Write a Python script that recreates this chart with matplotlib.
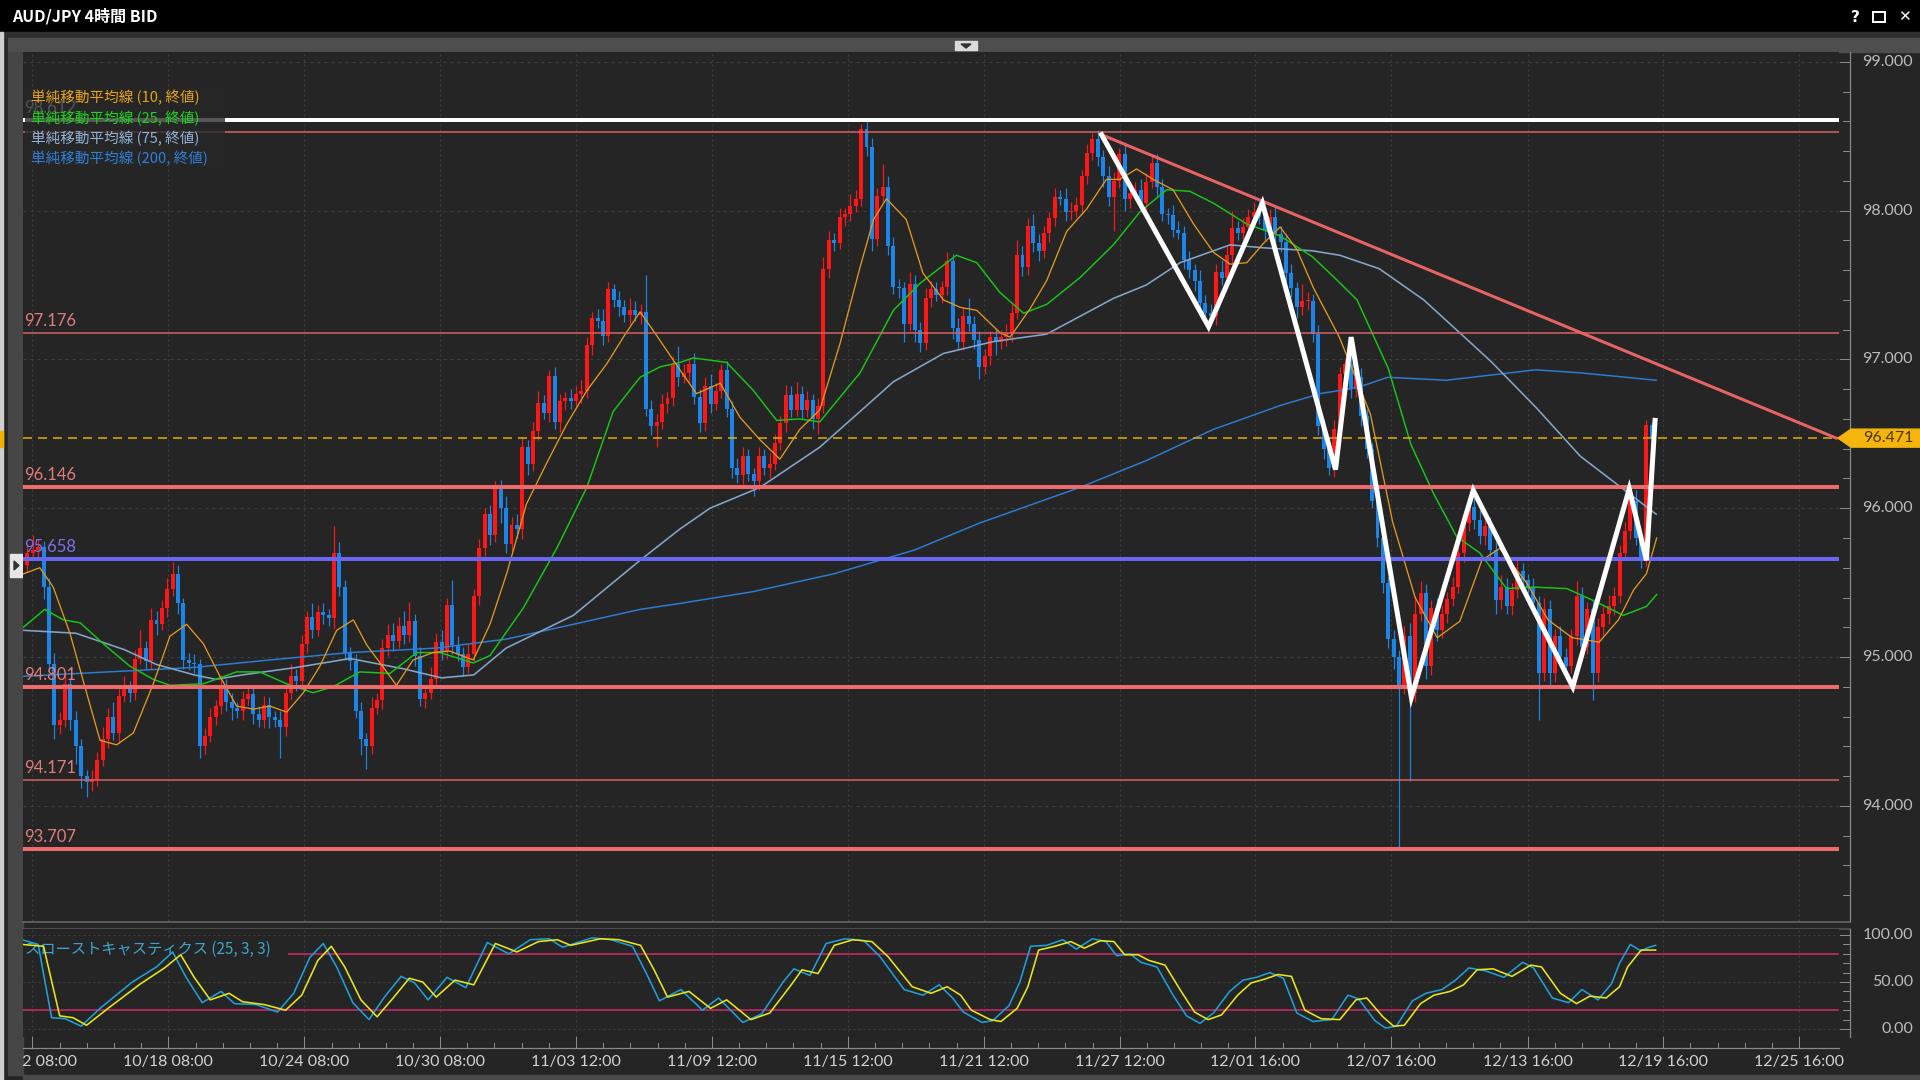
"""AUD/JPY 4h chart in a dark trading-terminal style: candles, SMAs, levels, zigzag, slow stochastics."""
import numpy as np
import matplotlib
matplotlib.use("Agg")
import matplotlib.pyplot as plt
from matplotlib import font_manager
from matplotlib.patches import Rectangle, Polygon
from matplotlib.transforms import Bbox, blended_transform_factory, offset_copy

# ---------------- data ----------------
first_open = 95.62
closes = [
    95.70, 95.72, 95.74, 95.47, 94.95, 94.54, 94.58, 94.82, 94.58, 94.40,
    94.20, 94.16, 94.18, 94.31, 94.45, 94.60, 94.49, 94.74, 94.80, 94.76,
    94.99, 95.06, 94.97, 95.25, 95.22, 95.33, 95.46, 95.56, 95.36, 94.98,
    94.96, 94.95, 94.40, 94.47, 94.60, 94.67, 94.80, 94.70, 94.66, 94.64,
    94.72, 94.75, 94.62, 94.58, 94.68, 94.60, 94.58, 94.53, 94.76, 94.87,
    94.84, 95.09, 95.27, 95.18, 95.30, 95.28, 95.26, 95.70, 95.47, 95.03,
    94.97, 94.64, 94.45, 94.40, 94.66, 94.71, 95.06, 95.15, 95.11, 95.21,
    95.15, 95.24, 95.01, 94.72, 94.76, 94.85, 95.10, 95.04, 95.35, 95.08,
    95.02, 94.93, 95.02, 95.41, 95.73, 95.96, 95.82, 96.13, 96.00, 95.76,
    95.89, 95.86, 96.41, 96.30, 96.52, 96.71, 96.64, 96.89, 96.58, 96.72,
    96.74, 96.72, 96.77, 96.79, 97.10, 97.28, 97.26, 97.16, 97.47, 97.40,
    97.35, 97.30, 97.33, 97.30, 97.32, 96.67, 96.55, 96.58, 96.70, 96.74,
    96.97, 96.88, 96.91, 96.97, 96.75, 96.57, 96.82, 96.70, 96.79, 96.93,
    96.67, 96.27, 96.22, 96.35, 96.23, 96.18, 96.35, 96.27, 96.30, 96.44,
    96.57, 96.76, 96.66, 96.77, 96.66, 96.73, 96.60, 96.69, 97.61, 97.80,
    97.78, 97.96, 97.98, 98.03, 98.08, 98.55, 98.43, 97.81, 98.10, 98.16,
    97.76, 97.49, 97.48, 97.24, 97.51, 97.20, 97.11, 97.41, 97.47, 97.43,
    97.49, 97.66, 97.21, 97.12, 97.29, 97.24, 97.13, 96.95, 97.02, 97.15,
    97.12, 97.15, 97.17, 97.31, 97.70, 97.62, 97.90, 97.78, 97.73, 97.85,
    97.95, 98.09, 98.08, 97.99, 98.00, 98.04, 98.23, 98.39, 98.48, 98.36,
    98.23, 98.09, 98.20, 98.38, 98.08, 98.12, 98.14, 98.05, 98.19, 98.32,
    98.16, 97.98, 97.97, 97.87, 97.85, 97.67, 97.60, 97.53, 97.38, 97.31,
    97.29, 97.59, 97.55, 97.70, 97.88, 97.85, 97.89, 97.96, 97.99, 97.96,
    97.86, 97.96, 97.84, 97.79, 97.58, 97.48, 97.35, 97.39, 97.39, 97.17,
    96.55, 96.40, 96.27, 96.53, 96.90, 96.97, 96.80, 96.88, 96.62, 96.40,
    96.05, 95.80, 95.50, 95.12, 95.00, 94.80, 95.14, 94.76, 95.29, 95.43,
    94.94, 95.33, 95.18, 95.29, 95.39, 95.47, 95.70, 95.90, 96.01, 95.92,
    95.81, 95.88, 95.72, 95.38, 95.47, 95.34, 95.45, 95.58, 95.52, 95.47,
    95.36, 94.89, 95.32, 94.89, 95.14, 95.00, 94.94, 95.14, 95.41, 95.07,
    95.32, 94.89, 95.20, 95.29, 95.34, 95.41, 95.70, 95.85, 96.05, 95.80,
    95.66, 96.56, 96.471,
]
# wick lengths beyond the body, in pips (0.01 JPY)
upper_wick = [
    6, 10, 5, 4, 6, 8, 5, 7, 4, 6,
    5, 4, 6, 5, 8, 6, 10, 5, 7, 4,
    6, 12, 5, 8, 6, 5, 7, 8, 6, 4,
    5, 6, 4, 5, 6, 4, 8, 5, 6, 4,
    5, 6, 4, 5, 6, 5, 4, 6, 5, 8,
    5, 6, 4, 9, 5, 6, 4, 18, 7, 5,
    4, 5, 6, 4, 7, 5, 6, 7, 8, 6,
    10, 13, 5, 6, 4, 8, 6, 8, 5, 17,
    6, 5, 7, 5, 6, 4, 6, 5, 6, 8,
    5, 7, 6, 5, 6, 8, 5, 4, 6, 5,
    4, 6, 5, 7, 5, 4, 6, 8, 5, 4,
    6, 5, 8, 6, 5, 25, 6, 5, 7, 4,
    5, 12, 6, 4, 7, 5, 6, 8, 5, 4,
    6, 5, 7, 6, 5, 4, 6, 5, 7, 6,
    5, 7, 6, 8, 5, 6, 4, 5, 8, 6,
    5, 6, 4, 8, 6, 3, 5, 6, 5, 15,
    7, 6, 5, 4, 8, 6, 5, 7, 6, 5,
    4, 6, 5, 7, 6, 12, 5, 6, 5, 4,
    6, 5, 7, 6, 10, 6, 5, 8, 6, 5,
    4, 6, 5, 7, 6, 5, 4, 6, 4, 6,
    5, 7, 6, 4, 8, 6, 5, 7, 6, 5,
    6, 5, 4, 7, 6, 5, 6, 4, 7, 5,
    6, 5, 8, 6, 12, 5, 6, 5, 7, 9,
    6, 5, 7, 6, 5, 6, 4, 12, 6, 5,
    6, 5, 4, 6, 5, 4, 7, 5, 6, 5,
    4, 6, 5, 4, 6, 5, 7, 9, 12, 8,
    6, 5, 7, 6, 5, 7, 6, 8, 5, 6,
    7, 5, 6, 5, 8, 6, 5, 7, 5, 4,
    6, 5, 8, 6, 5, 7, 6, 5, 10, 6,
    5, 7, 6, 5, 8, 6, 5, 6, 5, 7,
    4, 3, 2,
]
lower_wick = [
    5, 4, 6, 8, 5, 9, 6, 5, 7, 12,
    8, 10, 6, 5, 4, 6, 5, 7, 4, 6,
    5, 4, 6, 5, 7, 4, 6, 5, 7, 6,
    5, 6, 8, 5, 4, 6, 5, 6, 8, 5,
    6, 4, 7, 5, 6, 8, 5, 21, 6, 5,
    7, 5, 6, 5, 4, 6, 5, 7, 6, 5,
    6, 5, 11, 15, 5, 4, 6, 5, 7, 5,
    6, 5, 7, 5, 6, 4, 5, 6, 5, 6,
    5, 6, 4, 5, 6, 5, 7, 5, 10, 6,
    5, 6, 7, 8, 5, 6, 4, 6, 5, 7,
    6, 5, 4, 6, 5, 7, 5, 6, 4, 5,
    6, 5, 6, 4, 6, 5, 6, 14, 5, 6,
    5, 6, 4, 7, 5, 6, 5, 6, 4, 5,
    6, 7, 5, 6, 5, 10, 6, 5, 7, 4,
    5, 6, 5, 4, 6, 5, 7, 10, 5, 6,
    5, 4, 6, 5, 4, 5, 6, 8, 5, 4,
    6, 5, 7, 12, 5, 8, 6, 5, 6, 4,
    5, 6, 7, 5, 6, 5, 6, 8, 5, 6,
    9, 5, 6, 5, 4, 6, 5, 6, 7, 5,
    6, 5, 4, 6, 5, 4, 6, 5, 5, 6,
    7, 6, 23, 5, 8, 6, 5, 6, 5, 4,
    6, 5, 6, 5, 4, 6, 5, 7, 6, 5,
    4, 6, 5, 4, 6, 5, 7, 5, 6, 5,
    6, 5, 6, 7, 5, 6, 7, 5, 6, 5,
    6, 7, 5, 6, 5, 4, 6, 5, 7, 6,
    5, 6, 7, 6, 8, 108, 5, 59, 6, 5,
    9, 6, 7, 5, 6, 5, 4, 6, 5, 6,
    5, 6, 7, 9, 6, 5, 6, 5, 6, 4,
    7, 31, 5, 9, 6, 7, 8, 5, 6, 7,
    5, 18, 6, 5, 7, 6, 5, 4, 6, 5,
    6, 5, 4,
]

# simple moving averages (bar index, price)
ma10_x = [-1.4, 2.3, 4.8, 7.9, 11, 13.5, 16.6, 19.7, 23.4, 26.5,
          29.6, 32.7, 35.8, 38.9, 42, 45.1, 48.2, 51.3, 54.4, 57.5,
          60.6, 63.1, 66.2, 68.6, 71.7, 75.4, 78.5, 82.9, 86, 89.1,
          92.8, 96.5, 100.2, 104, 107.7, 110.8, 113.9, 117, 121.3, 124.4,
          128.8, 132.5, 136.2, 139.9, 143.6, 147.3, 151.1, 154.8, 157.3, 159.7,
          163.4, 166.5, 170.3, 173.4, 176.5, 180.8, 182.7, 186.4, 189.5, 193.2,
          196.9, 200.6, 203.1, 206.2, 209.3, 213, 216.8, 220.5, 223.6, 226.7,
          229.8, 232.9, 236, 239.1, 243.9, 249.7, 253.8, 258, 262.1, 266.3,
          270.4, 273.7, 278.7, 282.7, 287.2, 292.2, 295.8, 298.6, 301, 302.9]
ma10_y = [95.55, 95.60, 95.47, 95.16, 94.76, 94.44, 94.41, 94.49, 94.82, 95.14,
          95.22, 95.09, 94.87, 94.67, 94.65, 94.67, 94.63, 94.76, 94.94, 95.18,
          95.25, 95.08, 94.93, 94.81, 94.98, 95.03, 95.04, 94.98, 95.22, 95.56,
          96.03, 96.30, 96.56, 96.79, 96.97, 97.15, 97.32, 97.16, 96.93, 96.77,
          96.84, 96.61, 96.46, 96.33, 96.53, 96.66, 97.11, 97.62, 97.94, 98.08,
          97.94, 97.58, 97.40, 97.35, 97.33, 97.18, 97.15, 97.34, 97.53, 97.86,
          98.01, 98.21, 98.21, 98.28, 98.21, 98.14, 97.91, 97.72, 97.64, 97.65,
          97.78, 97.89, 97.74, 97.48, 97.15, 96.63, 95.91, 95.40, 95.13, 95.24,
          95.65, 95.73, 95.50, 95.25, 95.13, 95.10, 95.25, 95.45, 95.56, 95.80]
ma25_x = [-1.4, 3.2, 6.7, 9.8, 14.1, 19, 23.4, 26.5, 32.7, 38.9,
          43.2, 48.2, 53.1, 56.8, 61.8, 67.4, 72.4, 76.7, 82.9, 86,
          92.2, 98.4, 104, 108.9, 113.9, 117.6, 121.3, 123.8, 130, 135,
          139.3, 143.6, 147.3, 154.8, 161, 165.9, 172.7, 176.5, 180.8, 185.2,
          189.5, 195.7, 201.9, 206.8, 211.8, 216.1, 220.5, 226.7, 232.9, 238.9,
          243, 247.2, 253, 257.2, 261.4, 265.7, 270, 275, 280, 286.2,
          291.1, 296.7, 301, 302.9]
ma25_y = [95.18, 95.32, 95.25, 95.23, 95.09, 94.94, 94.85, 94.81, 94.82, 94.90,
          94.90, 94.82, 94.76, 94.80, 94.90, 94.89, 95.03, 95.03, 94.96, 95.01,
          95.33, 95.73, 96.14, 96.65, 96.88, 96.95, 96.98, 97.01, 96.98, 96.79,
          96.59, 96.60, 96.58, 96.91, 97.33, 97.51, 97.70, 97.65, 97.45, 97.31,
          97.37, 97.55, 97.77, 97.99, 98.14, 98.13, 98.05, 97.91, 97.83, 97.69,
          97.55, 97.40, 96.94, 96.43, 96.10, 95.81, 95.70, 95.46, 95.47, 95.46,
          95.38, 95.28, 95.34, 95.42]
ma75_x = [-1, 9, 18, 24, 31, 35, 40, 50, 60, 70,
          77, 83, 89, 101.5, 113.9, 121.3, 126.9, 136.2, 147.3, 154.8,
          161, 170.3, 179.6, 189.5, 195.7, 201.9, 208, 214.3, 220.5, 223.6,
          229.8, 238.9, 244, 251.3, 259.6, 272, 280.4, 288.7, 297, 302.8]
ma75_y = [95.18, 95.16, 95.05, 94.95, 94.88, 94.85, 94.88, 94.93, 94.99, 94.92,
          94.86, 94.88, 95.06, 95.28, 95.65, 95.86, 96.00, 96.14, 96.41, 96.65,
          96.85, 97.04, 97.12, 97.17, 97.29, 97.41, 97.50, 97.65, 97.73, 97.77,
          97.75, 97.73, 97.70, 97.61, 97.40, 96.99, 96.68, 96.35, 96.12, 95.96]
ma200_x = [-1, 15, 31, 45, 60, 76, 89, 101.5, 113.9, 121.3,
           135, 150, 165, 177, 195.7, 208, 220.5, 232.9, 240.3, 247.2,
           252.9, 263.8, 280.4, 288.7, 302.8]
ma200_y = [94.87, 94.90, 94.93, 94.98, 95.03, 95.06, 95.12, 95.22, 95.32, 95.36,
           95.44, 95.56, 95.72, 95.90, 96.14, 96.32, 96.53, 96.69, 96.77, 96.81,
           96.88, 96.86, 96.93, 96.91, 96.86]

# horizontal levels
level_values = [98.612, 98.530, 97.176, 96.146, 95.658, 94.801, 94.171, 93.707]
level_labels = ["98.612", "", "97.176", "96.146", "95.658", "94.801", "94.171", "93.707"]
last_price = 96.471

# hand-drawn overlays
zigzag_x = [199.7, 219.6, 229.6, 243.2, 246.1, 257.3, 268.8, 287.3, 297.8, 301.0, 302.6]
zigzag_y = [98.51, 97.22, 98.05, 96.26, 97.15, 94.73, 96.12, 94.80, 96.13, 95.65, 96.59]
trend_x = [199.7, 336.3]
trend_y = [98.51, 96.471]

# slow stochastics (25, 3, 3)
stoch_k_x = [-1, 2, 4.5, 7, 10, 13.5, 19.5, 24, 27, 29.5,
             32.5, 36, 38.5, 42.5, 46.5, 49.5, 52.5, 55, 57.5, 60.5,
             63.5, 66.5, 69.5, 72, 74.5, 78, 81.5, 85.5, 89.5, 93.5,
             97, 99.5, 105, 108.5, 112.5, 115, 117.5, 121.5, 125.5, 128.5,
             133, 136.5, 140.5, 142.5, 145.5, 148.5, 152, 155.5, 158.5, 163,
             166.5, 169.5, 172, 174, 177.5, 179.5, 182.5, 184.5, 186.5, 189.5,
             192.5, 195, 198, 200.5, 202.5, 205, 207, 210, 213, 215.5,
             218, 220.5, 223.5, 226, 228.5, 231, 233.5, 236, 239, 242.5,
             245.5, 247.5, 250.5, 252.5, 254.5, 257.5, 260, 263, 265.5, 268,
             271, 274.5, 278, 280, 283.5, 286.5, 289, 292, 294.5, 296,
             298, 300, 301.5, 302.7]
stoch_k_y = [95, 90, 12, 11, 3, 22, 50, 66, 82, 55,
             28, 40, 27, 26, 18, 38, 76, 91, 66, 28,
             10, 35, 56, 49, 31, 55, 44, 92, 80, 95,
             96, 87, 97, 95, 88, 60, 30, 42, 20, 33,
             7, 16, 50, 64, 57, 91, 96, 94, 77, 42,
             36, 47, 33, 18, 7, 9, 25, 50, 88, 89,
             95, 85, 96, 93, 78, 80, 71, 66, 36, 14,
             6, 17, 40, 52, 55, 60, 54, 17, 8, 10,
             36, 32, 9, 1, 3, 30, 38, 42, 52, 65,
             62, 55, 71, 65, 33, 28, 42, 31, 48, 70,
             90, 83, 87, 89]
stoch_d_x = [-1, 3, 6, 8.5, 11, 15, 21, 25.5, 28.5, 31,
             34, 37.5, 40, 44, 48, 51, 54, 56.5, 59, 62,
             65, 68, 71, 73.5, 76, 79.5, 83, 87, 91, 95,
             98.5, 101, 106.5, 110, 114, 116.5, 119, 123, 127, 130,
             134.5, 138, 142, 144, 147, 150, 153.5, 157, 160, 164.5,
             168, 171, 173.5, 175.5, 179, 181, 184, 186, 188, 191,
             194, 196.5, 199.5, 202, 204, 206.5, 208.5, 211.5, 214.5, 217,
             219.5, 222, 225, 227.5, 230, 232.5, 235, 237.5, 240.5, 244,
             247, 249, 252, 254, 256, 259, 261.5, 264.5, 267, 269.5,
             272.5, 276, 279.5, 281.5, 285, 288, 290.5, 293.5, 296, 297.5,
             300, 301.5, 302.7]
stoch_d_y = [90, 88, 14, 12, 4, 22, 48, 65, 79, 55,
             31, 38, 29, 26, 20, 36, 73, 88, 66, 31,
             13, 33, 54, 50, 34, 52, 47, 91, 82, 93,
             95, 89, 96, 95, 89, 63, 34, 40, 22, 31,
             10, 17, 47, 63, 59, 89, 95, 93, 77, 45,
             38, 45, 36, 20, 10, 8, 22, 45, 84, 88,
             93, 86, 94, 93, 79, 79, 73, 68, 40, 18,
             10, 15, 36, 49, 53, 58, 56, 20, 11, 10,
             31, 33, 13, 3, 4, 27, 36, 40, 47, 63,
             64, 56, 68, 66, 38, 27, 35, 33, 45, 66,
             84, 84, 84]

# time axis
tick_pos = [0.93, 26.2, 51.5, 76.7, 102.0, 127.3, 152.5, 177.8, 203.1, 228.3,
            253.6, 278.9, 304.1, 329.4]
tick_labels = ["10/12 08:00", "10/18 08:00", "10/24 08:00", "10/30 08:00",
               "11/03 12:00", "11/09 12:00", "11/15 12:00", "11/21 12:00",
               "11/27 12:00", "12/01 16:00", "12/07 16:00", "12/13 16:00",
               "12/19 16:00", "12/25 16:00"]
price_ticks = [94, 95, 96, 97, 98, 99]
stoch_ticks = [0, 50, 100]

# ---------------- styling ----------------
W, H = 1920, 1080
BG = "#252525"
UP, DOWN = "#ff1616", "#1c86e8"
RED_LINE, BLUE_LINE = "#ef6b6b", "#6767f2"
MA_COLORS = ["#e39a1e", "#17c417", "#83a5c9", "#2e7bd1"]
LEGEND_COLORS = ["#e8a317", "#1ad61a", "#93b3d8", "#2f80d8"]
GRID = "#3e3e3e"
AXIS = "#8a8a8a"

installed = {f.name for f in font_manager.fontManager.ttflist}
NUM_FONT = "Liberation Sans Narrow" if "Liberation Sans Narrow" in installed else "Lato"
NUM_SIZE = 12.5 if NUM_FONT == "Liberation Sans Narrow" else 11.5
JP_FONT = ["Noto Sans CJK JP", "DejaVu Sans"]


def lw(pixels):
    return pixels * 0.72


fig = plt.figure(figsize=(W / 100, H / 100), dpi=100, facecolor=BG)

back = fig.add_axes([0, 0, 1, 1], zorder=0)
back.set_xlim(0, W); back.set_ylim(H, 0); back.axis("off")

ax = fig.add_axes([23 / W, 1 - 921 / H, (1839 - 23) / W, (921 - 52) / H], zorder=1)
st = fig.add_axes([23 / W, 1 - 1037 / H, (1839 - 23) / W, (1037 - 929) / H], zorder=1)
ov = fig.add_axes([0, 0, 1, 1], zorder=5)
ov.set_xlim(0, W); ov.set_ylim(H, 0); ov.axis("off"); ov.patch.set_alpha(0)

for a in (ax, st):
    a.set_facecolor(BG)
    a.set_xticks([]); a.set_yticks([])
    for s in a.spines.values():
        s.set_visible(False)
    a.set_xlim(-0.82, 336.8)
ax.set_ylim(93.226, 99.066)
st.set_ylim(-8.5, 106.4)

# window chrome
back.add_patch(Rectangle((0, 0), W, 32, color="#000000"))
back.add_patch(Rectangle((0, 32), W, 6, color="#2e2e2e"))
back.add_patch(Rectangle((8, 38), W - 8, 14, color="#4e4e4e"))
back.add_patch(Rectangle((955, 41), 22, 9, color="#dcdcdc"))
back.add_patch(Polygon([(961, 44), (971, 44), (966, 48)], color="#333333"))
back.add_patch(Rectangle((8, 52), 15, 1023, color="#464646"))
back.add_patch(Rectangle((0, 32), 3, H - 32, color="#cfcfcf"))
back.add_patch(Rectangle((0, 431), 3, 16, color="#f0b000"))
back.add_patch(Rectangle((10, 554), 13, 23, color="#e6e6e6"))
back.add_patch(Polygon([(14, 561), (14, 570), (19, 565.5)], color="#333333"))
back.add_patch(Rectangle((23, 1075), W - 23, 5, color="#4a4a4a"))
back.plot([23, 1850], [922, 922], color="#5a5a5a", lw=lw(2))
back.plot([23, 1850], [928.5, 928.5], color="#5a5a5a", lw=lw(1.5))
back.text(12, 16, "AUD/JPY 4時間 BID", color="white", fontsize=11.5, weight="bold",
          family=JP_FONT, va="center", ha="left")
back.text(1855, 17, "?", color="white", fontsize=11, weight="bold", va="center", ha="center")
back.add_patch(Rectangle((1873, 12), 12, 10, fill=False, edgecolor="white", lw=lw(2)))
back.text(1904, 17, "✕", color="white", fontsize=11, va="center", ha="center",
          family="DejaVu Sans")

# ---------------- main price panel ----------------
closes_a = np.array(closes)
opens = np.concatenate([[first_open], closes_a[:-1]])
idx = np.arange(len(closes_a))
body_top = np.maximum(opens, closes_a)
body_bot = np.minimum(opens, closes_a)
highs = body_top + np.array(upper_wick) / 100.0
lows = body_bot - np.array(lower_wick) / 100.0
colors = np.where(closes_a >= opens, UP, DOWN)

for xg in tick_pos:
    ax.axvline(xg, color=GRID, lw=lw(1), ls=(0, (2, 3)), zorder=0.5)
    st.axvline(xg, color=GRID, lw=lw(1), ls=(0, (2, 3)), zorder=0.5)
for yg in price_ticks:
    ax.axhline(yg, color=GRID, lw=lw(1), ls=(0, (3, 4)), zorder=0.5)
for yg in stoch_ticks:
    st.axhline(yg, color=GRID, lw=lw(1), ls=(0, (2, 3)), zorder=0.5)

ax.vlines(idx, lows, highs, colors=colors, lw=lw(1.2), zorder=2)
ax.bar(idx, np.maximum(body_top - body_bot, 0.008), bottom=body_bot, width=0.74,
       color=colors, linewidth=0, zorder=2.1)

for xs, ys, c, w in ((ma200_x, ma200_y, MA_COLORS[3], 1.5), (ma75_x, ma75_y, MA_COLORS[2], 1.6),
                     (ma25_x, ma25_y, MA_COLORS[1], 1.5), (ma10_x, ma10_y, MA_COLORS[0], 1.3)):
    ax.plot(xs, ys, color=c, lw=lw(w), zorder=3, solid_joinstyle="round")

level_style = {98.612: ("#ffffff", 4), 98.530: ("#d96464", 1.5), 97.176: ("#d96464", 1.5),
               96.146: (RED_LINE, 4), 95.658: (BLUE_LINE, 4), 94.801: (RED_LINE, 4),
               94.171: ("#d96464", 1.5), 93.707: (RED_LINE, 4)}
tr_lab = offset_copy(blended_transform_factory(ov.transData, ax.transData), fig=fig, y=4,
                     units="dots")
for val, lab in zip(level_values, level_labels):
    c, w = level_style[val]
    ax.axhline(val, color=c, lw=lw(w), zorder=4)
    if lab:
        tc = "#7a70ea" if c == BLUE_LINE else ("#f0f0f0" if c == "#ffffff" else "#e07c7c")
        ax.text(24, val, lab, transform=tr_lab, color=tc, fontsize=NUM_SIZE + 0.5,
                family=NUM_FONT, va="bottom", ha="left", zorder=4.5)
ax.axhline(last_price, color="#e6b000", lw=lw(1.5), ls=(0, (6, 4)), zorder=4)

ax.plot(trend_x, trend_y, color="#e86464", lw=lw(3), zorder=5)
ax.plot(zigzag_x, zigzag_y, color="white", lw=lw(5), zorder=5.5, solid_joinstyle="miter")

# legend block (translucent backdrop like the terminal's)
ax.add_patch(Rectangle((25, 88), 200, 78, transform=ov.transData, facecolor="#272727",
                       alpha=0.78, edgecolor="none", zorder=6))
legend_names = ["単純移動平均線 (10, 終値)", "単純移動平均線 (25, 終値)",
                "単純移動平均線 (75, 終値)", "単純移動平均線 (200, 終値)"]
for k, (name, c) in enumerate(zip(legend_names, LEGEND_COLORS)):
    ov.text(31, 98 + k * 20.3, name, color=c, fontsize=10.5, family=JP_FONT,
            va="center", ha="left")

# ---------------- stochastics panel ----------------
st.axhline(80, color="#d42a6a", lw=lw(1.5), zorder=1)
st.axhline(20, color="#d42a6a", lw=lw(1.5), zorder=1)
st.add_patch(Rectangle((23, 939), 265, 20, transform=ov.transData, facecolor=BG,
                       edgecolor="none", zorder=2))
st.text(25, 949, "スローストキャスティクス (25, 3, 3)", transform=ov.transData,
        color="#3aa6cc", fontsize=11, family=JP_FONT, va="center", ha="left", zorder=2.5)
st.plot(stoch_k_x, stoch_k_y, color="#1f9fd6", lw=lw(1.6), zorder=3)
st.plot(stoch_d_x, stoch_d_y, color="#e6e619", lw=lw(1.6), zorder=3.2)

# ---------------- axes, ticks, labels ----------------
tr_p = blended_transform_factory(ov.transData, ax.transData)
tr_s = blended_transform_factory(ov.transData, st.transData)
tr_x = blended_transform_factory(st.transData, ov.transData)

ov.plot([1850, 1850], [52, 921], color=AXIS, lw=lw(1.2))
ov.plot([1850, 1850], [929, 1037], color=AXIS, lw=lw(1.2))
for p in np.arange(93.4, 99.01, 0.2):
    major = abs(p - round(p)) < 1e-6
    ov.plot([1840 if major else 1843, 1850], [p, p], color=AXIS, lw=lw(1), transform=tr_p)
for p in price_ticks:
    ov.text(1913, p, f"{p:.3f}", transform=tr_p, color="#bdbdbd", fontsize=NUM_SIZE,
            family=NUM_FONT, ha="right", va="center")
for v in range(0, 101, 10):
    ov.plot([1840 if v % 50 == 0 else 1843, 1850], [v, v], color=AXIS, lw=lw(1), transform=tr_s)
for v in stoch_ticks:
    ov.text(1913, v, f"{v:.2f}", transform=tr_s, color="#bdbdbd", fontsize=NUM_SIZE,
            family=NUM_FONT, ha="right", va="center")

# current price tag
yp = H - ax.transData.transform((0, last_price))[1]
ov.add_patch(Polygon([(1838, yp), (1851, yp - 9), (W, yp - 9), (W, yp + 9), (1851, yp + 9)],
                     closed=True, color="#f5b50a", zorder=6))
ov.text(1913, yp, f"{last_price:.3f}", color="#4a3800", fontsize=NUM_SIZE, family=NUM_FONT,
        ha="right", va="center", zorder=7)

# time axis
ov.plot([23, 1839], [1048, 1048], color=AXIS, lw=lw(1.2))
for k, xt in enumerate(tick_pos):
    ov.plot([xt, xt], [1037, 1048], color=AXIS, lw=lw(1), transform=tr_x)
    if k + 1 < len(tick_pos):
        for xm in np.linspace(xt, tick_pos[k + 1], 6)[1:-1]:
            ov.plot([xm, xm], [1043, 1048], color=AXIS, lw=lw(1), transform=tr_x)
clip = Bbox.from_extents(23, 0, 1850, 60)
for xt, lab in zip(tick_pos, tick_labels):
    t = ov.text(xt, 1062, lab, transform=tr_x, color="#d2d2d2", fontsize=NUM_SIZE,
                family=NUM_FONT, ha="center", va="center")
    t.set_clip_box(clip)
    t.set_clip_on(True)

fig.savefig("out.png", dpi=100, facecolor=BG)
